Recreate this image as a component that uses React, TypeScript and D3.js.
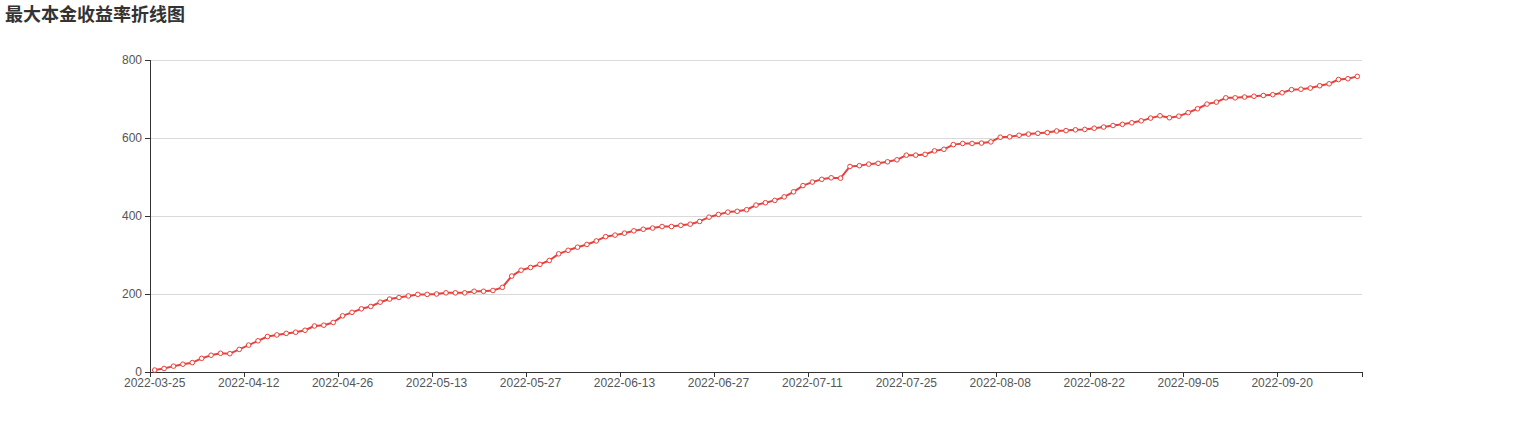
import React, { useRef, useEffect } from 'react';
import * as d3 from 'd3';

const WIDTH = 1514;
const HEIGHT = 432;

const TITLE = '最大本金收益率折线图';

// trading days, 2022-03-25 .. 2022-09-30
const DATES: string[] = [
  '2022-03-25', '2022-03-28', '2022-03-29', '2022-03-30', '2022-03-31',
  '2022-04-01', '2022-04-06', '2022-04-07', '2022-04-08', '2022-04-11',
  '2022-04-12', '2022-04-13', '2022-04-14', '2022-04-15', '2022-04-18',
  '2022-04-19', '2022-04-20', '2022-04-21', '2022-04-22', '2022-04-25',
  '2022-04-26', '2022-04-27', '2022-04-28', '2022-04-29', '2022-05-05',
  '2022-05-06', '2022-05-09', '2022-05-10', '2022-05-11', '2022-05-12',
  '2022-05-13', '2022-05-16', '2022-05-17', '2022-05-18', '2022-05-19',
  '2022-05-20', '2022-05-23', '2022-05-24', '2022-05-25', '2022-05-26',
  '2022-05-27', '2022-05-30', '2022-05-31', '2022-06-01', '2022-06-02',
  '2022-06-06', '2022-06-07', '2022-06-08', '2022-06-09', '2022-06-10',
  '2022-06-13', '2022-06-14', '2022-06-15', '2022-06-16', '2022-06-17',
  '2022-06-20', '2022-06-21', '2022-06-22', '2022-06-23', '2022-06-24',
  '2022-06-27', '2022-06-28', '2022-06-29', '2022-06-30', '2022-07-01',
  '2022-07-04', '2022-07-05', '2022-07-06', '2022-07-07', '2022-07-08',
  '2022-07-11', '2022-07-12', '2022-07-13', '2022-07-14', '2022-07-15',
  '2022-07-18', '2022-07-19', '2022-07-20', '2022-07-21', '2022-07-22',
  '2022-07-25', '2022-07-26', '2022-07-27', '2022-07-28', '2022-07-29',
  '2022-08-01', '2022-08-02', '2022-08-03', '2022-08-04', '2022-08-05',
  '2022-08-08', '2022-08-09', '2022-08-10', '2022-08-11', '2022-08-12',
  '2022-08-15', '2022-08-16', '2022-08-17', '2022-08-18', '2022-08-19',
  '2022-08-22', '2022-08-23', '2022-08-24', '2022-08-25', '2022-08-26',
  '2022-08-29', '2022-08-30', '2022-08-31', '2022-09-01', '2022-09-02',
  '2022-09-05', '2022-09-06', '2022-09-07', '2022-09-08', '2022-09-09',
  '2022-09-13', '2022-09-14', '2022-09-15', '2022-09-16', '2022-09-19',
  '2022-09-20', '2022-09-21', '2022-09-22', '2022-09-23', '2022-09-26',
  '2022-09-27', '2022-09-28', '2022-09-29', '2022-09-30',
];

const RETURNS: number[] = [
  5, 9, 15, 20, 24, 35, 43, 48, 47, 58,
  69, 80, 91, 95, 99, 102, 107, 118, 120, 127,
  144, 153, 162, 168, 179, 187, 191, 195, 199, 199,
  200, 203, 203, 203, 207, 207, 209, 217, 246, 261,
  268, 276, 286, 303, 312, 320, 327, 336, 347, 351,
  356, 362, 366, 369, 373, 373, 376, 379, 386, 397,
  404, 410, 412, 416, 428, 434, 440, 449, 462, 478,
  487, 494, 498, 497, 527, 529, 533, 535, 539, 544,
  556, 556, 558, 567, 571, 583, 586, 586, 587, 590,
  602, 603, 607, 610, 612, 614, 618, 619, 621, 622,
  625, 628, 632, 635, 639, 644, 651, 657, 652, 656,
  665, 675, 687, 692, 703, 703, 705, 707, 709, 711,
  716, 724, 725, 728, 734, 739, 750, 752, 758,
];

const Y_TICKS: number[] = [0, 200, 400, 600, 800];
const LABEL_EVERY = 10;

const GRID = { left: 150, right: 1362, top: 60, bottom: 372 };
const LINE_COLOR = '#e8413c';
const AXIS_COLOR = '#333';
const LABEL_COLOR = '#555';
const SPLIT_COLOR = '#d9d9d9';
const FONT = 'Liberation Sans, Arial, sans-serif';

const LineChart: React.FC = () => {
  const svgRef = useRef<SVGSVGElement>(null);

  useEffect(() => {
    if (!svgRef.current) return;
    const svg = d3.select(svgRef.current);
    svg.selectAll('*').remove();

    const x = d3.scaleBand<string>().domain(DATES).range([GRID.left, GRID.right]).padding(0);
    const y = d3.scaleLinear().domain([0, 800]).range([GRID.bottom, GRID.top]);
    const cx = (d: string) => (x(d) ?? 0) + x.bandwidth() / 2;

    // title
    svg.append('text')
      .attr('x', 5)
      .attr('y', 21)
      .attr('fill', '#333')
      .attr('font-size', '18px')
      .attr('font-weight', 'bold')
      .attr('font-family', '"Noto Sans CJK SC", sans-serif')
      .text(TITLE);

    // split lines
    svg.append('g')
      .selectAll('line')
      .data(Y_TICKS.filter((t) => t > 0))
      .join('line')
      .attr('x1', GRID.left)
      .attr('x2', GRID.right)
      .attr('y1', (d) => Math.round(y(d)) + 0.5)
      .attr('y2', (d) => Math.round(y(d)) + 0.5)
      .attr('stroke', SPLIT_COLOR)
      .attr('stroke-width', 1);

    // y axis
    const yAxis = svg.append('g');
    yAxis.append('line')
      .attr('x1', GRID.left + 0.5)
      .attr('x2', GRID.left + 0.5)
      .attr('y1', GRID.top)
      .attr('y2', GRID.bottom)
      .attr('stroke', AXIS_COLOR);
    yAxis.selectAll('line.tick')
      .data(Y_TICKS)
      .join('line')
      .attr('class', 'tick')
      .attr('x1', GRID.left - 5)
      .attr('x2', GRID.left)
      .attr('y1', (d) => Math.round(y(d)) + 0.5)
      .attr('y2', (d) => Math.round(y(d)) + 0.5)
      .attr('stroke', AXIS_COLOR);
    yAxis.selectAll('text')
      .data(Y_TICKS)
      .join('text')
      .attr('x', GRID.left - 8)
      .attr('y', (d) => y(d) + 4)
      .attr('text-anchor', 'end')
      .attr('fill', LABEL_COLOR)
      .attr('font-size', '12px')
      .attr('font-family', FONT)
      .text((d) => String(d));

    // x axis
    const xAxis = svg.append('g');
    xAxis.append('line')
      .attr('x1', GRID.left)
      .attr('x2', GRID.right)
      .attr('y1', GRID.bottom + 0.5)
      .attr('y2', GRID.bottom + 0.5)
      .attr('stroke', AXIS_COLOR);
    const labelled = DATES.filter((_, i) => i % LABEL_EVERY === 0);
    const tickXs = labelled.map((d) => x(d) ?? 0).concat([GRID.right]);
    xAxis.selectAll('line.tick')
      .data(tickXs)
      .join('line')
      .attr('class', 'tick')
      .attr('x1', (d) => Math.round(d) + 0.5)
      .attr('x2', (d) => Math.round(d) + 0.5)
      .attr('y1', GRID.bottom)
      .attr('y2', GRID.bottom + 5)
      .attr('stroke', AXIS_COLOR);
    xAxis.selectAll('text')
      .data(labelled)
      .join('text')
      .attr('x', (d) => cx(d))
      .attr('y', GRID.bottom + 15)
      .attr('text-anchor', 'middle')
      .attr('fill', LABEL_COLOR)
      .attr('font-size', '12px')
      .attr('font-family', FONT)
      .text((d) => d);

    // series line
    const line = d3.line<number>()
      .x((_, i) => cx(DATES[i]))
      .y((v) => y(v));
    svg.append('path')
      .attr('d', line(RETURNS) ?? '')
      .attr('fill', 'none')
      .attr('stroke', LINE_COLOR)
      .attr('stroke-width', 2)
      .attr('stroke-linejoin', 'round');

    // hollow symbols
    svg.append('g')
      .selectAll('circle')
      .data(RETURNS)
      .join('circle')
      .attr('cx', (_, i) => cx(DATES[i]))
      .attr('cy', (v) => y(v))
      .attr('r', 2.3)
      .attr('fill', '#fff')
      .attr('stroke', LINE_COLOR)
      .attr('stroke-width', 1);
  }, []);

  return <svg ref={svgRef} width={WIDTH} height={HEIGHT} style={{ display: 'block' }} />;
};

export default function App() {
  return (
    <div style={{ position: 'absolute', left: 0, top: 0, width: WIDTH, height: HEIGHT, background: '#fff' }}>
      <LineChart />
    </div>
  );
}
